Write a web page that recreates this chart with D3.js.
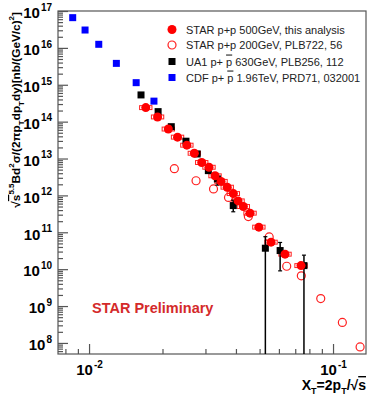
<!DOCTYPE html>
<html>
<head>
<meta charset="utf-8">
<script src="https://cdn.jsdelivr.net/npm/d3@7"></script>
<style>
  body { margin: 0; background: #fff; }
  svg { font-family: "Liberation Sans", Arial, Helvetica, sans-serif; }
</style>
</head>
<body>
<svg width="374" height="400"></svg>
<script>
// CDF p+pbar 1.96 TeV
var cdfX = [0.00857, 0.00963, 0.01096, 0.01294, 0.0156, 0.01845];
var cdfY = [6.6e16, 3.05e16, 1.25e16, 3.8e15, 1.14e15, 3.6e14];

// UA1 p+pbar 630 GeV (0 in lo = bar runs off the bottom)
var ua1X  = [0.01633, 0.01919, 0.02173, 0.02496, 0.02774, 0.03083, 0.03357, 0.0390, 0.0528, 0.0607, 0.0760];
var ua1Y  = [5.3e14, 1.87e14, 7.3e13, 2.95e13, 1.33e13, 4.7e12, 2.8e12, 5.3e11, 3.7e10, 3.2e10, 1.25e10];
var ua1Hi = [5.3e14, 1.87e14, 7.3e13, 2.95e13, 1.33e13, 4.7e12, 2.8e12, 7.4e11, 7.6e10, 5.3e10, 2.4e10];
var ua1Lo = [5.3e14, 1.87e14, 7.3e13, 2.95e13, 1.33e13, 4.7e12, 1.9e12, 3.6e11, 0, 9e9, 0];

// STAR p+p 500 GeV, this analysis
var star500X = [0.01708, 0.01909, 0.02113, 0.02305, 0.02517, 0.02701, 0.02896, 0.03102, 0.03284, 0.03475,
                0.03684, 0.03903, 0.0408, 0.04289, 0.04569, 0.04966, 0.05571, 0.06357, 0.07393];
var star500Y = [2.4e14, 1.34e14, 6.3e13, 3.8e13, 2.3e13, 1.39e13, 7.8e12, 5.8e12, 3.4e12, 2.4e12,
                1.67e12, 1.12e12, 7.1e11, 5.0e11, 3.3e11, 1.38e11, 5.4e10, 2.55e10, 1.25e10];
var star500SysX = 0.06, star500SysY = 0.13;

// STAR p+p 200 GeV, PLB722
var star200X = [0.02237, 0.02745, 0.03237, 0.03729, 0.04497, 0.05475, 0.06459, 0.07414, 0.08905, 0.1092, 0.1291];
var star200Y = [5.3e12, 2.5e12, 1.5e12, 8.8e11, 2.67e11, 7.5e10, 1.2e10, 6.6e9, 1.6e9, 3.6e8, 7.8e7];

var xMajor = [0.01, 0.1], xMajorExp = ["-2", "-1"];
var yMajor = [1e8, 1e9, 1e10, 1e11, 1e12, 1e13, 1e14, 1e15, 1e16, 1e17];
var yMajorExp = ["8", "9", "10", "11", "12", "13", "14", "15", "16", "17"];

var legendLabels = ["STAR p+p 500GeV, this analysis", "STAR p+p 200GeV, PLB722, 56", "UA1", "CDF"];

var svg = d3.select("svg"),
    pLeft = 58, pRight = 366, pTop = 11, pBottom = 354;

var x = d3.scaleLog().domain([0.00746, 0.1365]).range([pLeft, pRight]),
    y = d3.scaleLog().domain([Math.pow(10, 7.7), 1e17]).range([pBottom, pTop]);

// minor tick positions (2..9 in each decade)
var xMinor = [], yMinor = [];
for (var e = -3; e <= -1; e++) for (var m = 2; m <= 9; m++) {
  var v = m * Math.pow(10, e);
  if (v > x.domain()[0] && v < x.domain()[1]) xMinor.push(v);
}
for (var e2 = 7; e2 <= 16; e2++) for (var m2 = 2; m2 <= 9; m2++) {
  var w = m2 * Math.pow(10, e2);
  if (w > y.domain()[0] && w < y.domain()[1]) yMinor.push(w);
}

var axisColor = "#555";

// frame
svg.append("rect")
    .attr("x", pLeft).attr("y", pTop)
    .attr("width", pRight - pLeft).attr("height", pBottom - pTop)
    .attr("fill", "none").attr("stroke", axisColor).attr("stroke-width", 1.2);

// y-axis minor / major
var yMinorAxis = svg.append("g")
    .attr("transform", "translate(" + pLeft + ",0)")
    .call(d3.axisLeft(y).tickValues(yMinor).tickSize(-5).tickFormat(""));
var yAxis = svg.append("g")
    .attr("transform", "translate(" + pLeft + ",0)")
    .call(d3.axisLeft(y).tickValues(yMajor).tickSize(-10).tickPadding(5).tickFormat(""));

// x-axis minor / major
var xMinorAxis = svg.append("g")
    .attr("transform", "translate(0," + pBottom + ")")
    .call(d3.axisBottom(x).tickValues(xMinor).tickSize(-5).tickFormat(""));
var xAxis = svg.append("g")
    .attr("transform", "translate(0," + pBottom + ")")
    .call(d3.axisBottom(x).tickValues(xMajor).tickSize(-10).tickPadding(11).tickFormat(""));

[yMinorAxis, yAxis, xMinorAxis, xAxis].forEach(function(g) {
  g.select(".domain").remove();
  g.selectAll("line").attr("stroke", axisColor).attr("stroke-width", 1.2);
});

// tick labels as 10^n
yAxis.selectAll(".tick text").each(function(d, i) {
  var t = d3.select(this)
      .attr("font-size", 15).attr("font-weight", "bold").attr("fill", "#000")
      .attr("dy", "0.45em").attr("x", -6);
  t.append("tspan").text("10");
  t.append("tspan").attr("font-size", 10).attr("dy", "-0.75em").attr("dx", 1).text(yMajorExp[i]);
});
xAxis.selectAll(".tick text").each(function(d, i) {
  var t = d3.select(this)
      .attr("font-size", 15).attr("font-weight", "bold").attr("fill", "#000")
      .attr("dy", "0.68em");
  t.append("tspan").text("10");
  t.append("tspan").attr("font-size", 10).attr("dy", "-0.75em").attr("dx", 1).text(xMajorExp[i]);
});

// axis titles
var xt = svg.append("text")
    .attr("x", pRight).attr("y", 390)
    .attr("text-anchor", "end")
    .attr("font-size", 14).attr("font-weight", "bold");
xt.append("tspan").text("X");
xt.append("tspan").attr("font-size", 9).attr("dy", 4).text("T");
xt.append("tspan").attr("dy", -4).text("=2p");
xt.append("tspan").attr("font-size", 9).attr("dy", 4).text("T");
xt.append("tspan").attr("dy", -4).text("/√");
xt.append("tspan").style("text-decoration", "overline").text("s");

var yt = svg.append("text")
    .attr("transform", "translate(20,12) rotate(-90)")
    .attr("text-anchor", "end")
    .attr("font-size", 11.8).attr("font-weight", "bold");
yt.append("tspan").text("√");
yt.append("tspan").style("text-decoration", "overline").text("s");
yt.append("tspan").attr("font-size", 8).attr("dy", -6).text("5.5");
yt.append("tspan").attr("dy", 6).text("Bd");
yt.append("tspan").attr("font-size", 8).attr("dy", -6).text("2");
yt.append("tspan").attr("dy", 6).text("σ/(2πp");
yt.append("tspan").attr("font-size", 8).attr("dy", 4).text("T");
yt.append("tspan").attr("dy", -4).text("dp");
yt.append("tspan").attr("font-size", 8).attr("dy", 4).text("T");
yt.append("tspan").attr("dy", -4).text("dy)[nb/(GeV/c)");
yt.append("tspan").attr("font-size", 8).attr("dy", -6).text("2");
yt.append("tspan").attr("dy", 6).text("]");

var plot = svg.append("g");

// STAR 500 systematic boxes
plot.selectAll(".sys")
    .data(d3.range(star500X.length))
  .enter().append("rect")
    .attr("class", "sys")
    .attr("x", function(i) { return x(star500X[i] / (1 + star500SysX)); })
    .attr("width", function(i) { return x(star500X[i] * (1 + star500SysX)) - x(star500X[i] / (1 + star500SysX)); })
    .attr("y", function(i) { return y(star500Y[i] * (1 + star500SysY)); })
    .attr("height", function(i) { return y(star500Y[i] / (1 + star500SysY)) - y(star500Y[i] * (1 + star500SysY)); })
    .attr("fill", "none").attr("stroke", "#ff2020").attr("stroke-width", 1);

// STAR 200 open circles
plot.selectAll(".s200")
    .data(d3.range(star200X.length))
  .enter().append("circle")
    .attr("class", "s200")
    .attr("cx", function(i) { return x(star200X[i]); })
    .attr("cy", function(i) { return y(star200Y[i]); })
    .attr("r", 4)
    .attr("fill", "none").attr("stroke", "#ff2020").attr("stroke-width", 1.2);

// CDF blue squares
plot.selectAll(".cdf")
    .data(d3.range(cdfX.length))
  .enter().append("rect")
    .attr("class", "cdf")
    .attr("x", function(i) { return x(cdfX[i]) - 3.5; })
    .attr("y", function(i) { return y(cdfY[i]) - 3.5; })
    .attr("width", 7).attr("height", 7)
    .attr("fill", "#0000ff");

// UA1 error bars and squares
var ua1 = plot.selectAll(".ua1")
    .data(d3.range(ua1X.length))
  .enter().append("g")
    .attr("class", "ua1")
    .attr("transform", function(i) { return "translate(" + x(ua1X[i]) + ",0)"; });

function yLo(i) { return ua1Lo[i] > 0 ? y(ua1Lo[i]) : pBottom; }

ua1.append("line")
    .attr("x1", 0).attr("x2", 0)
    .attr("y1", function(i) { return y(ua1Hi[i]); })
    .attr("y2", yLo)
    .attr("stroke", "#000").attr("stroke-width", 1.5);
ua1.filter(function(i) { return ua1Hi[i] > ua1Y[i]; }).append("line")
    .attr("x1", -2).attr("x2", 2)
    .attr("y1", function(i) { return y(ua1Hi[i]); })
    .attr("y2", function(i) { return y(ua1Hi[i]); })
    .attr("stroke", "#000").attr("stroke-width", 1.2);
ua1.filter(function(i) { return ua1Lo[i] > 0 && ua1Lo[i] < ua1Y[i]; }).append("line")
    .attr("x1", -2).attr("x2", 2)
    .attr("y1", yLo).attr("y2", yLo)
    .attr("stroke", "#000").attr("stroke-width", 1.2);
ua1.append("rect")
    .attr("x", -3.5)
    .attr("y", function(i) { return y(ua1Y[i]) - 3.5; })
    .attr("width", 7).attr("height", 7)
    .attr("fill", "#000");

// STAR 500 filled circles
plot.selectAll(".s500")
    .data(d3.range(star500X.length))
  .enter().append("circle")
    .attr("class", "s500")
    .attr("cx", function(i) { return x(star500X[i]); })
    .attr("cy", function(i) { return y(star500Y[i]); })
    .attr("r", 4.5)
    .attr("fill", "#ff0000");

// legend
var legend = svg.append("g").attr("transform", "translate(172,0)");
var rowsY = [29.5, 45, 61.5, 77.5];

legend.append("circle").attr("cx", 0).attr("cy", rowsY[0]).attr("r", 4.5).attr("fill", "#ff0000");
legend.append("circle").attr("cx", 0).attr("cy", rowsY[1]).attr("r", 4)
    .attr("fill", "none").attr("stroke", "#ff2020").attr("stroke-width", 1.2);
legend.append("rect").attr("x", -3.5).attr("y", rowsY[2] - 3.5).attr("width", 7).attr("height", 7).attr("fill", "#000");
legend.append("rect").attr("x", -3.5).attr("y", rowsY[3] - 3.5).attr("width", 7).attr("height", 7).attr("fill", "#0000ff");

var lt = legend.selectAll(".lt")
    .data(rowsY)
  .enter().append("text")
    .attr("class", "lt")
    .attr("x", 14)
    .attr("y", function(d) { return d + 4; })
    .attr("font-size", 11)
    .attr("fill", "#222");
lt.filter(function(d, i) { return i < 2; }).text(function(d, i) { return legendLabels[i]; });

var ltUA1 = d3.select(lt.nodes()[2]);
ltUA1.append("tspan").text("UA1 p+ ");
ltUA1.append("tspan").style("text-decoration", "overline").text("p");
ltUA1.append("tspan").text(" 630GeV, PLB256, 112");

var ltCDF = d3.select(lt.nodes()[3]);
ltCDF.append("tspan").text("CDF p+ ");
ltCDF.append("tspan").style("text-decoration", "overline").text("p");
ltCDF.append("tspan").text(" 1.96TeV, PRD71, 032001");

// STAR Preliminary
svg.append("text")
    .attr("x", 92).attr("y", 313)
    .attr("font-size", 14.5).attr("font-weight", "bold")
    .attr("fill", "#d42a2a")
    .text("STAR Preliminary");
</script>
</body>
</html>
